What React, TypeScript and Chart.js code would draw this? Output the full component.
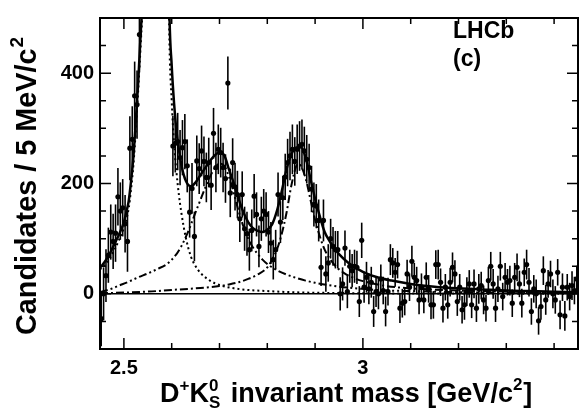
import React, { useEffect, useRef } from 'react';
import { Chart, registerables } from 'chart.js';

Chart.register(...registerables);

const FONT = '"Liberation Sans", Arial, Helvetica, sans-serif';

// 5 MeV bins starting at 2.45 GeV
const BIN_LOW = 2.45;
const BIN_WIDTH = 0.005;

// candidates per bin (values above 500 are off-scale in the figure)
const counts: number[] = [
  -45, 0, 33, 70, 112, 95, 110, 176, 150, 156, 127, 95, 264, 280, 359, 343,
  470, 520, 650, 900, 1300, 1900, 2600, 2900, 2500, 1800, 1200, 850, 640, 545,
  268, 273, 276, 247, 265, 276, 232, 148, 191, 104, 241, 227, 259, 240, 211, 238,
  197, 291, 229, 262, 256, 229, 209, 382, 183, 238,
  194, 180, 136, 180, 118, 109, 80, 115, 177, 144, 86, 136, 150, 144, 112, 92,
  62, 80, 180, 130, 174, 212, 238, 250, 262, 240, 262, 268, 271, 259, 244, 229,
  190, 162, 159, 133, 48, 133, 36, 56, 100, 86, 80, 80,
  0, 18, 83, 4, 50, 42, 50, 48, -14, 97, 12, 30, 9, 21, -32, 4, 0,
  27, 6, -32, 4, 62, 56, 39, 53, -26, -17, -14, 36, 12, 59, 30, 24, -11, 12, -11,
  30, 9, -20, -20, 53, 53, 21, -26, 12, -20, 21, 48, 36, -14, 12, -29, -20, 4, 18,
  -20, 18, -26, 9, 15, -11, -26, 24, 50, 18, -26, 9, 50, -5, 30, 21, 24, -17, 30,
  48, 18, -17, 39, 53, 21, -32, 9, 0, -49, -23, 42, -11, 18, 36, 0, -11, 39, -38,
  12, -40, 12, -5, 15, 6, 27,
];

// symmetric uncertainty per bin
const errors: number[] = [
  50, 48, 48, 50, 50, 50, 52, 52, 52, 52, 52, 55, 58, 60, 62, 62,
  65, 70, 75, 85, 100, 115, 130, 135, 125, 110, 95, 85, 75, 70,
  55, 53, 52, 50, 50, 50, 48, 46, 46, 45, 46, 46, 46, 45, 45, 45, 45, 46, 45, 45,
  45, 45, 44, 48, 44, 44,
  43, 43, 42, 42, 40, 40, 38, 38, 40, 40, 38, 40, 40, 40, 38, 38, 36, 36, 40, 38,
  40, 42, 43, 44, 45, 44, 45, 45, 45, 44, 44, 43, 42, 40, 40, 38, 34, 38, 32, 34,
  36, 35, 34, 34,
  30, 30, 32, 30, 30, 30, 30, 30, 28, 32, 28, 28, 28, 28, 28, 28, 28,
  26, 25, 27, 25, 28, 27, 26, 25, 27, 26, 25, 26, 25, 28, 26, 25, 26, 25, 24, 27,
  25, 26, 25, 26, 27, 25, 26, 24, 25, 26, 27, 25, 26, 24, 25, 27, 26, 25, 24, 26,
  25, 27, 25, 26, 24, 25, 26, 27, 25, 24, 26, 25, 26, 24, 27, 25, 26, 25, 24, 26,
  25, 27, 26, 24, 25, 26, 25, 24, 26, 27, 25, 24, 26, 25, 24, 26, 25, 27, 24, 25,
  26, 25, 24,
];

// fit curves: [mass GeV, candidates / 5 MeV]
const fitTotal: [number, number][] = [
  [2.45, 47], [2.46, 58], [2.47, 72], [2.48, 90], [2.49, 108], [2.5, 130], [2.505, 148],
  [2.51, 168], [2.515, 205], [2.52, 250], [2.525, 315], [2.53, 385], [2.535, 470], [2.54, 560],
  [2.545, 760], [2.55, 1050], [2.555, 1600], [2.56, 2400], [2.565, 3300], [2.57, 3600],
  [2.575, 3000], [2.58, 2100], [2.585, 1400], [2.59, 900], [2.595, 520], [2.6, 414],
  [2.605, 345], [2.61, 295], [2.615, 262], [2.62, 235], [2.625, 216], [2.63, 204],
  [2.635, 197], [2.64, 195], [2.65, 202], [2.66, 215], [2.67, 228], [2.68, 241], [2.69, 251],
  [2.7, 256], [2.71, 251], [2.72, 225], [2.73, 200], [2.74, 172], [2.75, 148], [2.76, 130],
  [2.77, 119], [2.78, 114], [2.79, 112], [2.8, 116], [2.81, 126], [2.82, 150], [2.83, 185],
  [2.84, 225], [2.85, 252], [2.86, 265], [2.87, 266], [2.88, 248], [2.89, 210], [2.9, 172],
  [2.91, 140], [2.92, 112], [2.93, 96], [2.94, 83], [2.95, 72], [2.97, 56], [3.0, 40],
  [3.03, 30], [3.06, 24], [3.1, 18], [3.15, 13], [3.2, 10], [3.25, 8], [3.3, 6], [3.35, 5],
  [3.4, 4], [3.45, 3],
];

const fitD2573: [number, number][] = [
  [2.45, 44], [2.47, 64], [2.49, 98], [2.5, 120], [2.51, 155], [2.515, 190], [2.52, 235],
  [2.525, 298], [2.53, 370], [2.535, 450], [2.54, 540], [2.545, 720], [2.55, 1000],
  [2.555, 1500], [2.56, 2300], [2.565, 3200], [2.57, 3500], [2.575, 2900], [2.58, 2000],
  [2.585, 1300], [2.59, 850], [2.595, 470], [2.6, 350], [2.605, 272], [2.61, 220],
  [2.615, 180], [2.62, 148], [2.63, 100], [2.64, 68], [2.65, 50], [2.66, 38], [2.68, 24],
  [2.7, 16], [2.73, 10], [2.76, 7], [2.8, 5], [2.85, 3], [2.9, 2], [3.0, 1], [3.15, 0.5],
  [3.3, 0.3], [3.45, 0.2],
];

const fitD2700: [number, number][] = [
  [2.45, 3], [2.47, 8], [2.49, 15], [2.51, 22], [2.53, 30], [2.55, 37], [2.57, 45], [2.59, 54],
  [2.61, 72], [2.62, 86], [2.63, 104], [2.64, 125], [2.65, 148], [2.66, 170], [2.67, 192],
  [2.68, 212], [2.69, 228], [2.7, 236], [2.71, 232], [2.72, 212], [2.73, 182], [2.74, 150],
  [2.75, 122], [2.76, 100], [2.77, 84], [2.78, 72], [2.79, 62], [2.8, 54], [2.82, 43],
  [2.84, 35], [2.86, 29], [2.88, 24], [2.9, 20], [2.95, 13], [3.0, 9], [3.05, 6], [3.1, 5],
  [3.2, 3], [3.3, 2], [3.45, 1],
];

const fitD2860: [number, number][] = [
  [2.45, 1], [2.55, 4], [2.6, 7], [2.65, 10], [2.7, 14], [2.72, 17], [2.74, 21], [2.76, 27],
  [2.78, 35], [2.8, 48], [2.81, 62], [2.82, 80], [2.83, 108], [2.84, 146], [2.85, 195],
  [2.86, 230], [2.865, 236], [2.87, 232], [2.88, 210], [2.89, 172], [2.9, 134], [2.91, 104],
  [2.92, 80], [2.94, 53], [2.96, 38], [2.98, 29], [3.0, 23], [3.05, 14], [3.1, 10], [3.2, 6],
  [3.3, 4], [3.45, 2],
];

const baseline: [number, number][] = [[2.45, 0], [3.45, 0]];

// axes
const X_MIN = 2.45;
const X_MAX = 3.45;
const Y_MIN = -100;
const Y_MAX = 500;
const xLabelTicks = [2.5, 3];
const xMinorTicks = [2.6, 2.7, 2.8, 2.9, 3.1, 3.2, 3.3, 3.4];
const yLabelTicks = [0, 200, 400];
const yMinorTicks = [-50, 50, 100, 150, 250, 300, 350, 450];

const toXY = (arr: [number, number][]) => arr.map(([x, y]) => ({ x, y }));

const rootStyle = {
  id: 'rootStyle',
  beforeDatasetsDraw(chart: any) {
    const { ctx, chartArea: a, scales } = chart;
    const xs = scales.x;
    const ys = scales.y;
    ctx.save();
    ctx.beginPath();
    ctx.rect(a.left, a.top, a.right - a.left, a.bottom - a.top);
    ctx.clip();
    ctx.strokeStyle = '#000';
    ctx.lineWidth = 1.6;
    counts.forEach((c, i) => {
      if (c > Y_MAX) return;
      const px = xs.getPixelForValue(BIN_LOW + (i + 0.5) * BIN_WIDTH);
      ctx.beginPath();
      ctx.moveTo(px, ys.getPixelForValue(c - errors[i]));
      ctx.lineTo(px, ys.getPixelForValue(c + errors[i]));
      ctx.stroke();
    });
    ctx.restore();
  },
  afterDraw(chart: any) {
    const { ctx, chartArea: a, scales } = chart;
    const xs = scales.x;
    const ys = scales.y;
    ctx.save();
    ctx.strokeStyle = '#000';
    ctx.lineWidth = 1.5;
    const tickX = (v: number, len: number) => {
      const px = xs.getPixelForValue(v);
      ctx.beginPath();
      ctx.moveTo(px, a.bottom);
      ctx.lineTo(px, a.bottom - len);
      ctx.moveTo(px, a.top);
      ctx.lineTo(px, a.top + len);
      ctx.stroke();
    };
    const tickY = (v: number, len: number) => {
      const py = ys.getPixelForValue(v);
      ctx.beginPath();
      ctx.moveTo(a.left, py);
      ctx.lineTo(a.left + len, py);
      ctx.moveTo(a.right, py);
      ctx.lineTo(a.right - len, py);
      ctx.stroke();
    };
    xLabelTicks.forEach((v) => tickX(v, 11));
    xMinorTicks.forEach((v) => tickX(v, 6));
    yLabelTicks.forEach((v) => tickY(v, 11));
    yMinorTicks.forEach((v) => tickY(v, 6));
    ctx.lineWidth = 2;
    ctx.strokeRect(a.left, a.top, a.right - a.left, a.bottom - a.top);

    ctx.fillStyle = '#000';
    ctx.textAlign = 'left';
    ctx.textBaseline = 'alphabetic';

    // LHCb label
    ctx.font = `bold 23px ${FONT}`;
    ctx.fillText('LHCb', 453, 38);
    ctx.fillText('(c)', 453, 66);

    // x title
    const big = `bold 27px ${FONT}`;
    const small = `bold 17px ${FONT}`;
    let cx = 160;
    const by = 402;
    const put = (t: string, font: string, dy: number) => {
      ctx.font = font;
      ctx.fillText(t, cx, by + dy);
      return ctx.measureText(t).width;
    };
    cx += put('D', big, 0);
    cx += put('+', small, -11);
    cx += put('K', big, 0);
    const w0 = put('0', small, -11);
    const wS = put('S', small, 6);
    cx += Math.max(w0, wS) + 3;
    cx += put(' invariant mass [GeV/c', big, 0);
    cx += put('2', small, -12) + 1;
    put(']', big, 0);

    // y title
    ctx.save();
    ctx.translate(36, 335);
    ctx.rotate(-Math.PI / 2);
    ctx.font = `bold 28.8px ${FONT}`;
    const t = 'Candidates / 5 MeV/c';
    ctx.fillText(t, 0, 0);
    const tw = ctx.measureText(t).width;
    ctx.font = `bold 19px ${FONT}`;
    ctx.fillText('2', tw + 1, -13);
    ctx.restore();

    ctx.restore();
  },
};

export default function App() {
  const ref = useRef<HTMLCanvasElement>(null);
  useEffect(() => {
    document.body.style.margin = '0';
    const canvas = ref.current;
    if (!canvas) return;
    const tickFont = { family: FONT, size: 20, weight: 'bold' as const };
    const chart = new Chart(canvas, {
      type: 'scatter',
      data: {
        datasets: [
          {
            label: 'Total fit',
            data: toXY(fitTotal),
            showLine: true,
            borderColor: '#000',
            borderWidth: 2.5,
            pointRadius: 0,
            cubicInterpolationMode: 'monotone',
            order: 1,
          },
          {
            label: 'D*s2(2573)',
            data: toXY(fitD2573),
            showLine: true,
            borderColor: '#000',
            borderWidth: 2,
            borderDash: [2, 3],
            pointRadius: 0,
            cubicInterpolationMode: 'monotone',
            order: 2,
          },
          {
            label: 'D*s1(2700)',
            data: toXY(fitD2700),
            showLine: true,
            borderColor: '#000',
            borderWidth: 2,
            borderDash: [8, 3, 2, 3, 2, 3],
            pointRadius: 0,
            cubicInterpolationMode: 'monotone',
            order: 2,
          },
          {
            label: 'D*sJ(2860)',
            data: toXY(fitD2860),
            showLine: true,
            borderColor: '#000',
            borderWidth: 2,
            borderDash: [8, 3, 2, 3],
            pointRadius: 0,
            cubicInterpolationMode: 'monotone',
            order: 2,
          },
          {
            label: 'Background',
            data: toXY(baseline),
            showLine: true,
            borderColor: '#000',
            borderWidth: 1.5,
            pointRadius: 0,
            order: 3,
          },
          {
            label: 'Data',
            data: counts.map((c, i) => ({ x: BIN_LOW + (i + 0.5) * BIN_WIDTH, y: c })),
            showLine: false,
            pointRadius: 2.6,
            pointBackgroundColor: '#000',
            pointBorderWidth: 0,
            order: 5,
          },
        ],
      },
      options: {
        animation: false,
        responsive: false,
        devicePixelRatio: 1,
        events: [],
        layout: { padding: { top: 8, right: 2, left: 0, bottom: 0 } },
        plugins: {
          legend: { display: false },
          tooltip: { enabled: false },
        },
        scales: {
          x: {
            type: 'linear',
            min: X_MIN,
            max: X_MAX,
            grid: { display: false, drawTicks: false },
            border: { display: false },
            afterBuildTicks: (s: any) => {
              s.ticks = xLabelTicks.map((v) => ({ value: v }));
            },
            afterFit: (s: any) => {
              s.height = 61;
            },
            ticks: {
              autoSkip: false,
              maxRotation: 0,
              padding: 7,
              color: '#000',
              font: tickFont,
              callback: (v: any) => String(Math.round(Number(v) * 10) / 10),
            },
          },
          y: {
            type: 'linear',
            min: Y_MIN,
            max: Y_MAX,
            grid: { display: false, drawTicks: false },
            border: { display: false },
            afterBuildTicks: (s: any) => {
              s.ticks = yLabelTicks.map((v) => ({ value: v }));
            },
            afterFit: (s: any) => {
              s.width = 100;
            },
            ticks: {
              autoSkip: false,
              padding: 6,
              color: '#000',
              font: tickFont,
              callback: (v: any) => String(v),
            },
          },
        },
      },
      plugins: [rootStyle],
    } as any);
    return () => chart.destroy();
  }, []);
  return (
    <div style={{ width: 582, height: 410 }}>
      <canvas ref={ref} width={582} height={410} style={{ display: 'block' }} />
    </div>
  );
}
